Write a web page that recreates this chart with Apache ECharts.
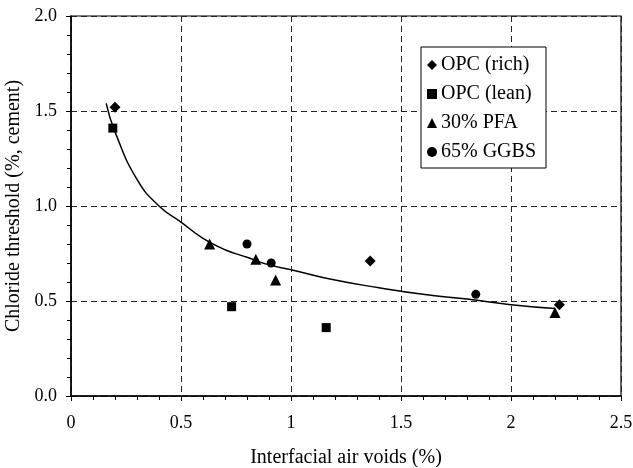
<!DOCTYPE html>
<html><head><meta charset="utf-8">
<script src="https://cdn.jsdelivr.net/npm/echarts@6/dist/echarts.min.js"></script>
<style>html,body{margin:0;padding:0;background:#fff}#c{width:633px;height:468px}</style>
</head><body><div id="c"></div>
<script>
const opcRich = [[0.20,1.52],[1.36,0.71],[2.22,0.48]];
const opcLean = [[0.19,1.41],[0.73,0.47],[1.16,0.36]];
const pfa30 = [[0.63,0.80],[0.84,0.72],[0.93,0.61],[2.20,0.44]];
const ggbs65 = [[0.80,0.80],[0.91,0.70],[1.84,0.535]];
const trendLine = [[0.16,1.54],[0.2,1.39],[0.3,1.14],[0.4,1.00],[0.5,0.915],[0.6,0.83],[0.7,0.77],[0.8,0.73],[0.9,0.69],[1.0,0.665],[1.2,0.61],[1.4,0.57],[1.6,0.535],[1.8,0.51],[2.0,0.48],[2.2,0.46]];
const seriesNames = ['OPC (rich)','OPC (lean)','30% PFA','65% GGBS'];
const xTitle = 'Interfacial air voids (%)';
const yTitle = 'Chloride threshold (%, cement)';

const FONT = 'Liberation Serif';
const chart = echarts.init(document.getElementById('c'));
const axisCommon = {
  axisLine:{show:true,onZero:false,lineStyle:{color:'#000',width:1.5}},
  axisTick:{show:true,inside:false,length:5,lineStyle:{color:'#000'}},
  minorTick:{show:true,splitNumber:5,length:4,lineStyle:{color:'#000'}},
  splitLine:{show:true,lineStyle:{color:'#222',type:[6,4],width:1}},
  axisLabel:{color:'#000',fontFamily:FONT,fontSize:18},
  nameTextStyle:{color:'#000',fontFamily:FONT,fontSize:20}
};
function sc(name, data, symbol, size){
  return {name, type:'scatter', data, symbol, symbolSize:size, itemStyle:{color:'#000',opacity:1}, z:5};
}
chart.setOption({
  animation:false,
  textStyle:{fontFamily:FONT},
  grid:{left:71,top:16,right:12,bottom:72,containLabel:false,outerBoundsMode:'none',show:true,borderColor:'#000',borderWidth:1.2},
  legend:{
    orient:'vertical', left:421, top:47, data:seriesNames,
    backgroundColor:'#fff', borderColor:'#000', borderWidth:1,
    padding:[8,10,6,6], itemGap:9, itemWidth:10, itemHeight:10,
    textStyle:{color:'#000',fontFamily:FONT,fontSize:20, padding:[0,0,0,-1]}
  },
  xAxis:Object.assign({}, axisCommon, {
    type:'value', min:0, max:2.5, interval:0.5,
    name:xTitle, nameLocation:'middle', nameGap:52,
    axisLabel:Object.assign({}, axisCommon.axisLabel, {margin:18})
  }),
  yAxis:Object.assign({}, axisCommon, {
    type:'value', min:0, max:2, interval:0.5,
    name:yTitle, nameLocation:'middle', nameGap:44,
    axisLabel:Object.assign({}, axisCommon.axisLabel, {margin:14, formatter:v=>v.toFixed(1)})
  }),
  series:[
    {type:'line', data:trendLine, smooth:true, showSymbol:false, symbol:'none', lineStyle:{color:'#000',width:1.5}, z:3, silent:true},
    sc(seriesNames[0], opcRich, 'diamond', 11),
    sc(seriesNames[1], opcLean, 'rect', 9),
    sc(seriesNames[2], pfa30, 'triangle', 11),
    sc(seriesNames[3], ggbs65, 'circle', 9)
  ]
});
</script></body></html>
